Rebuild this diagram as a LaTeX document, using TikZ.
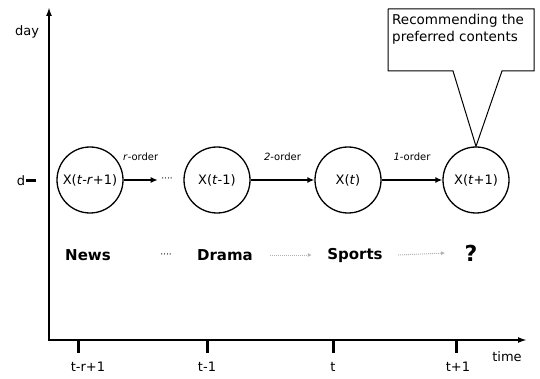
\documentclass[tikz,border=0pt]{standalone}
\usepackage{fontspec}
\setmainfont{DejaVu Sans}
\usetikzlibrary{arrows.meta}
\tikzset{
	axis/.style={line width=2.4pt,{Latex[length=9pt,width=6pt]}-{Latex[length=9pt,width=6pt]}},
	state/.style={circle,draw,line width=1.3pt,minimum size=66pt,inner sep=0pt,font=\fontsize{13}{15}\selectfont},
	link/.style={line width=2pt,-{Latex[length=7pt,width=6pt]}},
	order/.style={midway,above=15pt,font=\fontsize{10}{12}\selectfont},
	genre/.style={font=\fontsize{15}{18}\selectfont\bfseries},
	faint/.style={black!30,densely dotted,line width=1pt,-{Latex[length=4pt,width=4pt]}},
	tick/.style={line width=3pt},
	ticklab/.style={font=\fontsize{13}{15}\selectfont,inner sep=1pt}
}
\begin{document}
\begin{tikzpicture}[x=1pt,y=-1pt]
	\useasboundingbox (0,0) rectangle (540,379);

	% axes
	\coordinate (top) at (49,7);
	\coordinate (right) at (527,340);
	\draw [axis] (top) |- (right);
	\node [ticklab] (day) at (27,32) {day};
	\node [ticklab] (time) at (507,357) {time};
	\node [ticklab] (d) at (21,181) {d};
	\draw [tick] (d.east) -- ++(10,0);

	% time ticks
	\coordinate (k1) at (78,340);
	\coordinate (k2) at (207,340);
	\coordinate (k3) at (333,340);
	\coordinate (k4) at (456,340);
	\draw [tick] (k1) -- ++(0,13);
	\draw [tick] (k2) -- ++(0,13);
	\draw [tick] (k3) -- ++(0,13);
	\draw [tick] (k4) -- ++(0,13);
	\node [ticklab] (l1) at (88,367) {t-r+1};
	\node [ticklab] (l2) at (207,367) {t-1};
	\node [ticklab] (l3) at (333,367) {t};
	\node [ticklab] (l4) at (458,367) {t+1};

	% states
	\node [state] (x1) at (90,180) {X(\textit{t}-\textit{r}+1)};
	\node [font=\fontsize{9}{11}\selectfont] (gap) at (167,180) {····};
	\node [state] (x2) at (217,180) {X(\textit{t}-1)};
	\node [state] (x3) at (348,180) {X(\textit{t})};
	\node [state] (x4) at (476,180) {X(\textit{t}+1)};

	\draw [link] (x1) -- (gap) node [order] {\textit{r}-order};
	\draw [link] (x2) -- (x3) node [order] {\textit{2}-order};
	\draw [link] (x3) -- (x4) node [order] {\textit{1}-order};

	% contents watched
	\node [genre] (news) at (88,255) {News};
	\node [font=\fontsize{9}{11}\selectfont] (gap2) at (166,256) {····};
	\node [genre] (drama) at (225,255) {Drama};
	\node [genre] (sports) at (355,255) {Sports};
	\node [genre,font=\fontsize{22}{24}\selectfont\bfseries] (what) at (471,253) {?};
	\draw [faint] ([xshift=14pt]drama.east) -- ([xshift=-12pt]sports.west);
	\draw [faint] ([xshift=12pt]sports.east) -- ([xshift=-16pt]what.west);

	% callout
	\node [font=\fontsize{13.5}{17}\selectfont,align=left,anchor=north west,inner sep=0pt] (rec) at (392,14) {Recommending the\\preferred contents};
	\coordinate (bl) at (388,9);
	\coordinate (tr) at (534,71);
	\coordinate (pl) at (453,71);
	\coordinate (pr) at (502,71);
	\draw [line width=1pt,line join=miter] (bl) -| (tr) -- (pr) -- (x4.north) -- (pl) -| (bl);
\end{tikzpicture}
\end{document}
